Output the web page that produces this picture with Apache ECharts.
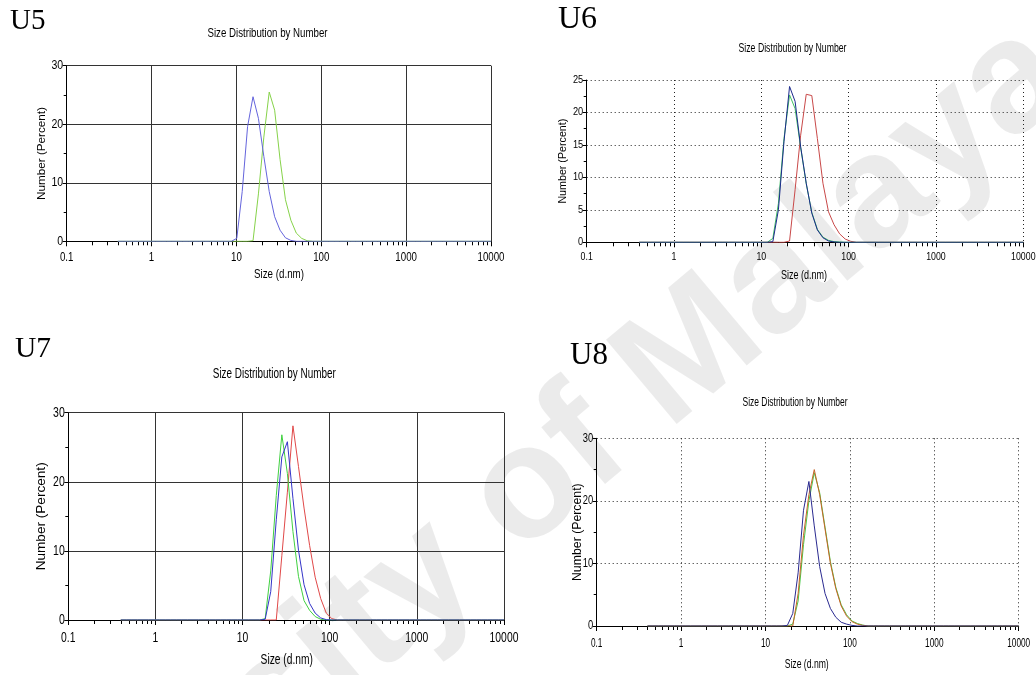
<!DOCTYPE html>
<html><head><meta charset="utf-8">
<script src="https://cdn.jsdelivr.net/npm/echarts@6/dist/echarts.min.js"></script>
<style>html,body{margin:0;padding:0;background:#fff}#c{width:1036px;height:675px}</style>
</head><body><div id="c"></div>
<script>
// DLS size classes (d.nm), 70 bins from 0.4 to 10000
const sizes = [0.4,0.4632,0.5365,0.6213,0.7195,0.8332,0.9649,1.117,1.294,1.499,
  1.736,2.010,2.328,2.696,3.122,3.615,4.187,4.849,5.615,6.503,
  7.531,8.721,10.10,11.70,13.54,15.69,18.17,21.04,24.36,28.21,
  32.67,37.84,43.82,50.75,58.77,68.06,78.82,91.28,105.7,122.4,
  141.8,164.2,190.1,220.2,255.0,295.3,342.0,396.1,458.7,531.2,
  615.1,712.4,825.0,955.4,1106,1281,1484,1718,1990,2305,
  2669,3091,3580,4145,4801,5560,6439,7456,8635,10000];

const xTickValues = [0.1, 1, 10, 100, 1000, 10000];
const xTickLabels = ['0.1','1','10','100','1000','10000'];
const yTicks30 = [0, 10, 20, 30];
const yTicks25 = [0, 5, 10, 15, 20, 25];
const panelLabels = ['U5','U6','U7','U8'];
const chartTitle = 'Size Distribution by Number';
const xName = 'Size (d.nm)';
const yName = 'Number (Percent)';
const watermarkText = 'University of Malaya';

// Number (%) per size class
const u5Blue = [0,0,0,0,0,0,0,0,0,0,0,0,0,0,0,0,0,0,0,0,0,0,
  0.5,8.5,19.6,24.7,21.0,14.5,8.5,4.2,1.9,0.6,0.15,0,0,0,0,0,0,0,0,0,0,0,0,0,
  0,0,0,0,0,0,0,0,0,0,0,0,0,0,0,0,0,0,0,0,0,0,0,0];
const u5Green = [0,0,0,0,0,0,0,0,0,0,0,0,0,0,0,0,0,0,0,0,0,0,
  0,0,0,0.1,8.1,17.8,25.5,22.4,14.0,7.1,3.6,1.4,0.5,0.1,0,0,0,0,0,0,0,0,0,0,
  0,0,0,0,0,0,0,0,0,0,0,0,0,0,0,0,0,0,0,0,0,0,0,0];

const u6Red = [0,0,0,0,0,0,0,0,0,0,0,0,0,0,0,0,0,0,0,0,0,0,
  0,0,0,0,0,0.2,8.1,16.5,22.8,22.6,16.0,9.1,4.7,2.7,1.3,0.5,0.15,0,0,0,0,0,0,0,
  0,0,0,0,0,0,0,0,0,0,0,0,0,0,0,0,0,0,0,0,0,0,0,0];
const u6Green = [0,0,0,0,0,0,0,0,0,0,0,0,0,0,0,0,0,0,0,0,0,0,
  0,0,0.6,6.0,16.0,22.7,20.6,14.6,9.0,4.6,2.0,0.8,0.3,0.1,0.05,0,0,0,0,0,0,0,0,0,
  0,0,0,0,0,0,0,0,0,0,0,0,0,0,0,0,0,0,0,0,0,0,0,0];
const u6Blue = [0,0,0,0,0,0,0,0,0,0,0,0,0,0,0,0,0,0,0,0,0,0,
  0,0,0.1,5.0,15.5,24.0,21.7,14.7,9.1,4.5,1.9,0.7,0.2,0.05,0,0,0,0,0,0,0,0,0,0,
  0,0,0,0,0,0,0,0,0,0,0,0,0,0,0,0,0,0,0,0,0,0,0,0];

const u7Red = [0,0,0,0,0,0,0,0,0,0,0,0,0,0,0,0,0,0,0,0,0,0,
  0,0,0,0,0,0,0,9.3,18.5,28.1,22.2,16.2,10.8,6.2,3.1,1.0,0.2,0,0,0,0,0,0,0,
  0,0,0,0,0,0,0,0,0,0,0,0,0,0,0,0,0,0,0,0,0,0,0,0];
const u7Green = [0,0,0,0,0,0,0,0,0,0,0,0,0,0,0,0,0,0,0,0,0,0,
  0,0,0,0,0.2,7.1,18.0,26.8,21.2,12.8,6.3,2.8,1.4,0.5,0.1,0,0,0,0,0,0,0,0,0,
  0,0,0,0,0,0,0,0,0,0,0,0,0,0,0,0,0,0,0,0,0,0,0,0];
const u7Blue = [0,0,0,0,0,0,0,0,0,0,0,0,0,0,0,0,0,0,0,0,0,0,
  0,0,0,0,0.1,4.1,14.5,23.6,25.8,17.6,10.1,5.1,2.4,1.0,0.3,0.05,0,0,0,0,0,0,0,0,
  0,0,0,0,0,0,0,0,0,0,0,0,0,0,0,0,0,0,0,0,0,0,0,0];

const u8Red = [0,0,0,0,0,0,0,0,0,0,0,0,0,0,0,0,0,0,0,0,0,0,
  0,0,0,0,0,0,5.2,14.5,21.0,25.0,21.0,15.5,10.0,6.0,3.2,1.6,0.7,0.3,0.1,0,0,0,0,0,
  0,0,0,0,0,0,0,0,0,0,0,0,0,0,0,0,0,0,0,0,0,0,0,0];
const u8Green = [0,0,0,0,0,0,0,0,0,0,0,0,0,0,0,0,0,0,0,0,0,0,
  0,0,0,0,0,0.3,4.0,13.0,20.0,24.5,21.3,15.8,10.3,6.2,3.4,1.8,0.8,0.4,0.15,0,0,0,0,0,
  0,0,0,0,0,0,0,0,0,0,0,0,0,0,0,0,0,0,0,0,0,0,0,0];
const u8Blue = [0,0,0,0,0,0,0,0,0,0,0,0,0,0,0,0,0,0,0,0,0,0,
  0,0,0,0,0.1,2.0,8.5,18.5,23.1,16.0,9.5,5.2,2.8,1.4,0.6,0.3,0.1,0,0,0,0,0,0,0,
  0,0,0,0,0,0,0,0,0,0,0,0,0,0,0,0,0,0,0,0,0,0,0,0];

const SANS = "'Liberation Sans',Arial,sans-serif";
const SERIF = "'Liberation Serif','Times New Roman',serif";

const panels = [
  { grid:{left:66.7, top:65.7, width:424.3, height:175.6}, yMax:30, yStep:10, yTicks:yTicks30, dotted:false,
    tick:13.5, xk:0.72, yk:0.78, xLabelY:257.5,
    titleSize:13, titleK:0.745, titleX:267.5, titleY:33.3,
    labelX:10, labelY:21.2, labelSize:29,
    xNameSize:12.5, xNameK:0.78, xNameX:279, xNameY:275,
    yNameSize:11.7, yNameGap:19,
    series:[{d:u5Green,c:'#86d24a'},{d:u5Blue,c:'#6464dc'}] },
  { grid:{left:586.7, top:80, width:436.6, height:162.3}, yMax:25, yStep:5, yTicks:yTicks25, dotted:true,
    tick:11, xk:0.8, yk:0.84, xLabelY:257.2,
    titleSize:12, titleK:0.726, titleX:792.5, titleY:49,
    labelX:558, labelY:19.2, labelSize:32,
    xNameSize:12, xNameK:0.75, xNameX:804, xNameY:276,
    yNameSize:10.7, yNameGap:18.5,
    series:[{d:u6Red,c:'#c84848'},{d:u6Green,c:'#40c060'},{d:u6Blue,c:'#1c2a8c'}] },
  { grid:{left:68.3, top:412.7, width:435.7, height:207.3}, yMax:30, yStep:10, yTicks:yTicks30, dotted:false,
    tick:15, xk:0.69, yk:0.7, xLabelY:638.3,
    titleSize:14, titleK:0.709, titleX:274.3, titleY:374,
    labelX:15, labelY:349.7, labelSize:29.5,
    xNameSize:14, xNameK:0.73, xNameX:286.7, xNameY:660,
    yNameSize:13.6, yNameGap:20,
    series:[{d:u7Red,c:'#e04848'},{d:u7Green,c:'#40d040'},{d:u7Blue,c:'#3434c8'}] },
  { grid:{left:596.7, top:438.3, width:422, height:187.7}, yMax:30, yStep:10, yTicks:yTicks30, dotted:true,
    tick:12.5, xk:0.66, yk:0.75, xLabelY:643.3,
    titleSize:13, titleK:0.652, titleX:795, titleY:402.7,
    labelX:570, labelY:355.5, labelSize:31,
    xNameSize:12.5, xNameK:0.69, xNameX:806.7, xNameY:665,
    yNameSize:12.3, yNameGap:13.5,
    series:[{d:u8Green,c:'#48c848'},{d:u8Red,c:'#c86428'},{d:u8Blue,c:'#2a2a90'}] }
];

const grids = [], xAxes = [], yAxes = [], series = [];

panels.forEach((p, i) => {
  const gridColor = p.dotted ? '#222' : '#333';
  const gridType = p.dotted ? [1, 3] : 'solid';
  grids.push(Object.assign({containLabel:false}, p.grid));
  xAxes.push({
    type:'log', logBase:10, min:0.1, max:10000, gridIndex:i,
    axisLine:{show:true, lineStyle:{color:'#000', width:1}},
    axisTick:{show:true, length:5, lineStyle:{color:'#000'}},
    minorTick:{show:true, splitNumber:9, length:4, lineStyle:{color:'#000'}},
    axisLabel:{show:false},
    splitLine:{show:true, lineStyle:{color:gridColor, type:gridType, width:1}}
  });
  yAxes.push({
    type:'value', min:0, max:p.yMax, interval:p.yStep, gridIndex:i,
    name:yName, nameLocation:'middle', nameRotate:90, nameGap:p.yNameGap,
    nameTextStyle:{fontFamily:SANS, fontSize:p.yNameSize, color:'#000'},
    axisLine:{show:true, lineStyle:{color:'#000', width:1}},
    axisTick:{show:true, length:4, lineStyle:{color:'#000'}},
    minorTick:{show:true, splitNumber:2, length:3, lineStyle:{color:'#000'}},
    axisLabel:{show:false},
    splitLine:{show:true, lineStyle:{color:gridColor, type:gridType, width:1}}
  });
  p.series.forEach((s, k) => {
    series.push({
      type:'line', xAxisIndex:i, yAxisIndex:i, z:2 + k,
      data:sizes.map((x, j) => [x, s.d[j]]),
      showSymbol:false, symbol:'none', silent:true,
      lineStyle:{color:s.c, width:1}, itemStyle:{color:s.c}
    });
  });
});

const chart = echarts.init(document.getElementById('c'), null, {renderer:'canvas'});
chart.setOption({
  animation:false,
  backgroundColor:'#ffffff',
  grid:grids, xAxis:xAxes, yAxis:yAxes, series:series
});

function txt(x, y, text, size, k, align, family) {
  return {type:'text', x:x, y:y, scaleX:k, scaleY:1, z:10,
    style:{text:text, font:size + 'px ' + (family || SANS), fill:'#000',
      align:align, verticalAlign:'middle', textAlign:align, textVerticalAlign:'middle'}};
}

// watermark: baseline anchored so the text runs bottom-left to top-right
const wmAngle = 40 * Math.PI / 180;
const graphics = [{
  type:'text', z:-10, x:-85, y:1110, rotation:wmAngle,
  style:{text:watermarkText, font:"bold 160px 'Liberation Sans'", fill:'rgba(0,0,0,0.08)',
    align:'left', verticalAlign:'bottom', textAlign:'left', textVerticalAlign:'bottom'}
}];

panels.forEach((p, i) => {
  graphics.push(txt(p.titleX, p.titleY, chartTitle, p.titleSize, p.titleK, 'center'));
  graphics.push(txt(p.labelX, p.labelY, panelLabels[i], p.labelSize, 1, 'left', SERIF));
  graphics.push(txt(p.xNameX, p.xNameY, xName, p.xNameSize, p.xNameK, 'center'));
  xTickValues.forEach((v, k) => {
    const pt = chart.convertToPixel({gridIndex:i}, [v, 0]);
    graphics.push(txt(pt[0], p.xLabelY, xTickLabels[k], p.tick, p.xk, 'center'));
  });
  p.yTicks.forEach(v => {
    const pt = chart.convertToPixel({gridIndex:i}, [1, v]);
    graphics.push(txt(p.grid.left - 3.5, pt[1], String(v), p.tick, p.yk, 'right'));
  });
});
chart.setOption({graphic:{elements:graphics}});
</script></body></html>
